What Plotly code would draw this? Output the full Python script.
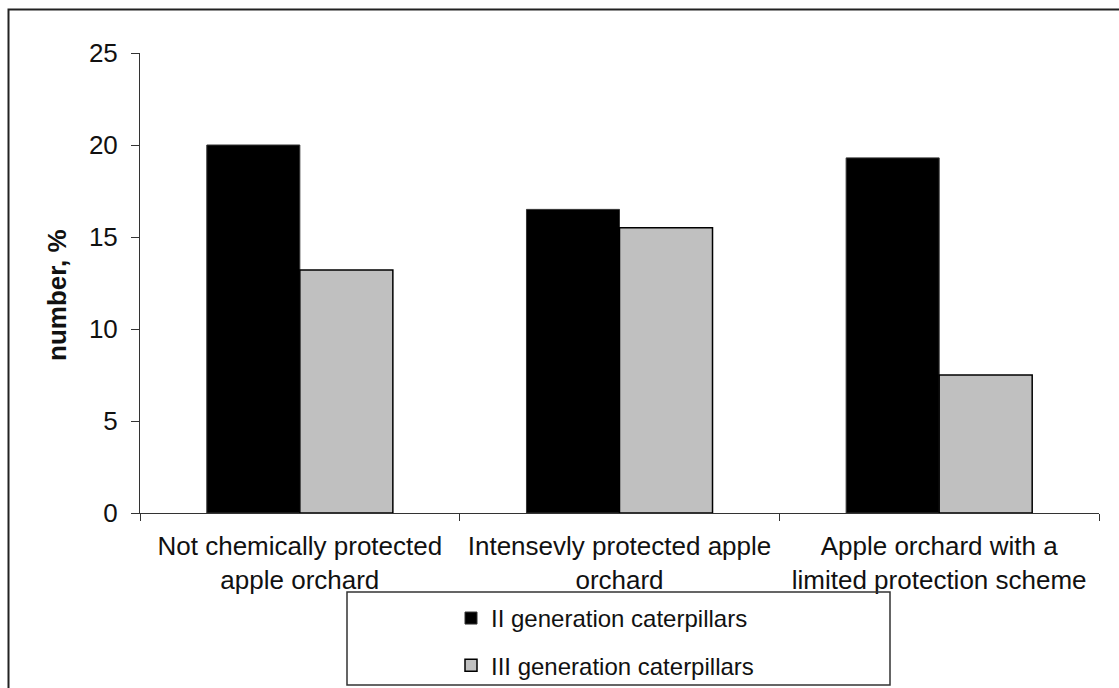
import plotly.graph_objects as go

categories = [
    "Not chemically protected<br>apple orchard",
    "Intensevly protected apple<br>orchard",
    "Apple orchard with a<br>limited protection scheme",
]
series_names = ["II generation caterpillars", "III generation caterpillars"]
gen2_values = [20.0, 16.5, 19.3]
gen3_values = [13.2, 15.5, 7.5]
y_ticks = [0, 5, 10, 15, 20, 25]

FONT = "Liberation Sans, Arial, sans-serif"

# target layout in reference pixels: plot area x 140..1099, y 52..512
W = 1119
KY = 700 / 688          # vertical compensation
H = round(688 * KY)
L = 140
R = W - 1099
T = round(52 * KY)
B = H - round(512 * KY)
PW, PH = W - L - R, H - T - B


def px(x):  # reference pixel -> paper
    return (x - L) / PW


def py(y):  # reference pixel -> paper
    return (H - B - y * KY) / PH


fig = go.Figure()
fig.add_trace(go.Bar(
    x=categories, y=gen2_values, name=series_names[0],
    marker=dict(color="#000000", line=dict(color="#333333", width=1)),
    legendgroup="g2",
))
fig.add_trace(go.Bar(
    x=categories, y=gen3_values, name=series_names[1],
    marker=dict(color="#C0C0C0", line=dict(color="#000000", width=1.5)),
    legendgroup="g3",
))

fig.update_layout(
    width=W, height=H,
    margin=dict(l=L, r=R, t=T, b=B),
    paper_bgcolor="white", plot_bgcolor="white",
    barmode="group", bargap=0.418, bargroupgap=0,
    font=dict(family=FONT, size=24, color="#111111"),
    showlegend=True,
    legend=dict(
        x=px(451), y=py(595), xanchor="left", yanchor="top",
        bgcolor="rgba(0,0,0,0)", borderwidth=0,
        font=dict(family=FONT, size=24, color="#111111"),
        tracegroupgap=13,
    ),
    xaxis=dict(
        showline=True, linecolor="#333333", linewidth=1,
        ticks="outside", ticklen=7, tickcolor="#333333", tickson="boundaries",
        tickfont=dict(family=FONT, size=26, color="#111111"),
        ticklabelstandoff=10,
        showgrid=False, zeroline=False,
    ),
    yaxis=dict(
        range=[0, 25], tickvals=y_ticks,
        showline=True, linecolor="#333333", linewidth=1,
        ticks="outside", ticklen=8, tickcolor="#333333",
        tickfont=dict(family=FONT, size=26, color="#111111"),
        ticklabelstandoff=8,
        showgrid=False, zeroline=False,
    ),
    shapes=[
        # outer chart border
        dict(type="rect", xref="paper", yref="paper",
             x0=px(8.5), x1=px(1140), y0=py(720), y1=py(8.5),
             line=dict(color="#222222", width=2), fillcolor="rgba(0,0,0,0)", layer="below"),
        # legend box
        dict(type="rect", xref="paper", yref="paper",
             x0=px(347), x1=px(890), y0=py(684), y1=py(591),
             line=dict(color="#333333", width=1.5), fillcolor="rgba(0,0,0,0)"),
    ],
    annotations=[
        dict(text="<b>number, %</b>", textangle=-90, xref="paper", yref="paper",
             x=px(57), y=py(295), xanchor="center", yanchor="middle",
             showarrow=False, font=dict(family=FONT, size=26, color="#111111")),
    ],
)

fig.write_html(
    "out.html",
    config={"displayModeBar": False},
    post_script="document.body.style.margin='0';document.body.style.overflow='hidden';",
)
